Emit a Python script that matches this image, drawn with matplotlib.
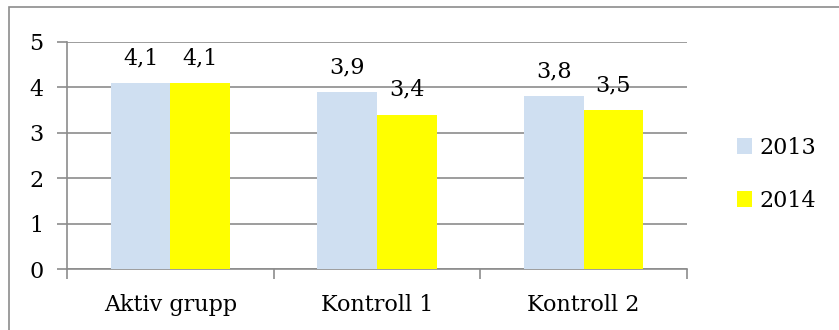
import matplotlib
matplotlib.use("Agg")
import matplotlib.pyplot as plt
from matplotlib.patches import Rectangle
import numpy as np

categories = ["Aktiv grupp", "Kontroll 1", "Kontroll 2"]
series_names = ["2013", "2014"]
values_2013 = [4.1, 3.9, 3.8]
values_2014 = [4.1, 3.4, 3.5]
y_ticks = [0, 1, 2, 3, 4, 5]

colors = ["#CFDFF1", "#FFFF00"]
grid_color = "#8C8C8C"
font = ["DejaVu Serif"]
fs = 16

plt.rcParams["font.family"] = font

fig = plt.figure(figsize=(8.39, 3.30), dpi=100)
ax = fig.add_axes([67 / 839, 61 / 330, 620 / 839, 227 / 330])

x = np.arange(len(categories))
width = 0.288

def fmt(v):
    return f"{v:.1f}".replace(".", ",")

for i, (vals, name) in enumerate(zip([values_2013, values_2014], series_names)):
    pos = x + (i - 0.5) * width
    bars = ax.bar(pos, vals, width=width, color=colors[i], label=name, zorder=3,
                  linewidth=0)
    for b, v in zip(bars, vals):
        ax.annotate(fmt(v), (b.get_x() + b.get_width() / 2, v),
                    xytext=(0, 10), textcoords="offset points",
                    ha="center", va="bottom", fontsize=fs, color="black")

ax.set_xlim(-0.5, len(categories) - 0.5)
ax.set_ylim(0, 5)
ax.set_yticks(y_ticks)
ax.set_yticklabels([str(t) for t in y_ticks])
ax.yaxis.grid(True, color=grid_color, linewidth=1.2, zorder=0)

ax.set_xticks(np.arange(-0.5, len(categories), 1.0))
ax.set_xticklabels([])
ax.set_xticks(x, minor=True)
ax.set_xticklabels(categories, minor=True)
ax.tick_params(axis="x", which="minor", length=0, pad=18, labelsize=fs)
ax.tick_params(axis="x", which="major", length=7, width=1.2, color=grid_color)
ax.tick_params(axis="y", length=7, width=1.2, color=grid_color, pad=10, labelsize=fs)

for s in ["top", "right"]:
    ax.spines[s].set_visible(False)
for s in ["left", "bottom"]:
    ax.spines[s].set_color(grid_color)
    ax.spines[s].set_linewidth(1.2)

# chart area frame (left and top edges visible)
fig.patches.append(Rectangle((9 / 839, -0.2), 1.2, (330 - 7) / 330 + 0.2,
                             transform=fig.transFigure, fill=False,
                             edgecolor="#8C8C8C", linewidth=1.2))

leg = fig.legend(loc="upper left", bbox_to_anchor=(728 / 839, 1 - 128 / 330),
                 frameon=False, fontsize=fs, handlelength=0.7, handleheight=0.7,
                 handletextpad=0.3, labelspacing=1.4, borderaxespad=0)

fig.savefig("out.png", dpi=100)
